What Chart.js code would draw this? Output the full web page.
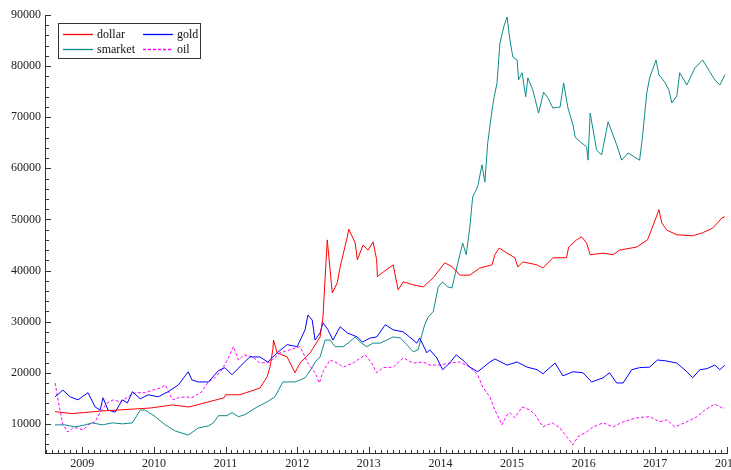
<!DOCTYPE html>
<html lang="en">
<head>
<meta charset="UTF-8">
<title>dollar, gold, smarket, oil</title>
<script src="https://cdn.jsdelivr.net/npm/chart.js"></script>
<style>
  html, body { margin: 0; padding: 0; background: #fff; overflow: hidden; }
  #wrap { width: 731px; height: 470px; }
</style>
</head>
<body>
<div id="wrap"><canvas id="grafico" width="731" height="470"></canvas></div>
<script>
  // values (decimal years, index values)
  const dollarDates = [2008.62, 2008.86, 2009.25, 2009.95, 2010.26, 2010.49, 2010.98, 2011.00, 2011.20, 2011.48,
    2011.58, 2011.62, 2011.66, 2011.67, 2011.72, 2011.86, 2011.97, 2012.04, 2012.18, 2012.32,
    2012.36, 2012.42, 2012.46, 2012.49, 2012.56, 2012.60, 2012.70, 2012.72, 2012.81, 2012.84,
    2012.92, 2012.99, 2013.06, 2013.11, 2013.12, 2013.20, 2013.34, 2013.41, 2013.48, 2013.62,
    2013.76, 2013.90, 2014.06, 2014.17, 2014.27, 2014.41, 2014.55, 2014.72, 2014.76, 2014.82,
    2014.93, 2015.04, 2015.08, 2015.15, 2015.35, 2015.43, 2015.57, 2015.76, 2015.79, 2015.90,
    2015.97, 2016.04, 2016.09, 2016.27, 2016.41, 2016.50, 2016.74, 2016.89, 2016.96, 2017.05,
    2017.09, 2017.16, 2017.30, 2017.52, 2017.66, 2017.80, 2017.93, 2017.97];
  const dollarValues = [12400, 12000, 12500, 13100, 13700, 13300, 15100, 15700, 15700, 17000,
    19200, 21100, 24500, 26400, 23900, 23100, 20000, 21900, 23900, 27000,
    30900, 46000, 40100, 35600, 37600, 40700, 46600, 48100, 45400, 42100,
    45000, 44000, 45600, 42100, 38800, 39700, 41100, 36200, 37800, 37200,
    36800, 38600, 41500, 40700, 39100, 39100, 40500, 41100, 43100, 44400,
    43400, 42500, 40700, 41700, 41100, 40500, 42500, 42500, 44600, 46000,
    46600, 45400, 43100, 43400, 43100, 44000, 44600, 46000, 48500, 51900,
    49300, 47900, 47000, 46800, 47400, 48300, 50300, 50500];

  const goldDates = [2008.62, 2008.73, 2008.83, 2008.94, 2009.08, 2009.18, 2009.25, 2009.29, 2009.36, 2009.46,
    2009.56, 2009.63, 2009.70, 2009.81, 2009.92, 2010.06, 2010.20, 2010.34, 2010.48, 2010.53,
    2010.62, 2010.76, 2010.90, 2010.99, 2011.09, 2011.25, 2011.34, 2011.48, 2011.59, 2011.72,
    2011.86, 2012.00, 2012.11, 2012.15, 2012.21, 2012.25, 2012.32, 2012.36, 2012.43, 2012.50,
    2012.60, 2012.70, 2012.84, 2012.91, 2013.02, 2013.11, 2013.23, 2013.34, 2013.48, 2013.57,
    2013.67, 2013.71, 2013.81, 2013.85, 2013.95, 2014.03, 2014.13, 2014.22, 2014.31, 2014.41,
    2014.52, 2014.69, 2014.76, 2014.93, 2015.07, 2015.21, 2015.35, 2015.43, 2015.60, 2015.71,
    2015.85, 2015.99, 2016.11, 2016.27, 2016.36, 2016.46, 2016.55, 2016.67, 2016.78, 2016.92,
    2017.03, 2017.16, 2017.30, 2017.44, 2017.52, 2017.62, 2017.72, 2017.83, 2017.90, 2017.97];
  const goldValues = [15300, 16600, 15300, 14700, 16100, 13300, 12700, 15100, 12700, 12300,
    14700, 14100, 16300, 14900, 15700, 15300, 16300, 17600, 20200, 18600,
    18200, 18200, 20400, 21000, 19600, 21900, 23100, 23100, 22100, 23900,
    25500, 25100, 28400, 31300, 30300, 26400, 27800, 29800, 28400, 26400,
    29000, 27800, 27000, 26000, 26800, 27000, 29400, 28400, 28000, 27000,
    25800, 26800, 23900, 24500, 22900, 20600, 21900, 23500, 22500, 21100,
    20200, 22100, 22700, 21500, 22100, 21100, 20600, 19800, 21900, 19400,
    20200, 20000, 18200, 19000, 20000, 18000, 18000, 20600, 21000, 21100,
    22500, 22300, 21900, 20200, 19000, 20600, 20800, 21500, 20600, 21500];

  const smarketDates = [2008.62, 2008.76, 2008.90, 2009.04, 2009.14, 2009.28, 2009.42, 2009.56, 2009.70, 2009.81,
    2009.88, 2010.02, 2010.16, 2010.30, 2010.48, 2010.62, 2010.76, 2010.83, 2010.90, 2011.02,
    2011.09, 2011.18, 2011.27, 2011.44, 2011.58, 2011.69, 2011.80, 2011.97, 2012.11, 2012.21,
    2012.25, 2012.32, 2012.39, 2012.46, 2012.53, 2012.64, 2012.71, 2012.81, 2012.88, 2012.97,
    2013.06, 2013.16, 2013.25, 2013.34, 2013.44, 2013.53, 2013.62, 2013.69, 2013.74, 2013.78,
    2013.83, 2013.90, 2013.97, 2014.03, 2014.10, 2014.16, 2014.23, 2014.31, 2014.36, 2014.41,
    2014.45, 2014.52, 2014.58, 2014.62, 2014.66, 2014.72, 2014.75, 2014.79, 2014.83, 2014.89,
    2014.93, 2014.97, 2015.01, 2015.07, 2015.09, 2015.14, 2015.19, 2015.22, 2015.29, 2015.37,
    2015.44, 2015.50, 2015.57, 2015.67, 2015.72, 2015.78, 2015.85, 2015.88, 2015.95, 2016.04,
    2016.06, 2016.09, 2016.18, 2016.25, 2016.34, 2016.46, 2016.53, 2016.62, 2016.71, 2016.78,
    2016.82, 2016.88, 2016.92, 2017.01, 2017.05, 2017.13, 2017.19, 2017.23, 2017.30, 2017.34,
    2017.44, 2017.55, 2017.66, 2017.76, 2017.83, 2017.90, 2017.97];
  const smarketValues = [9800, 9800, 9400, 9800, 10200, 9800, 10200, 10000, 10200, 12700,
    12700, 11400, 9800, 8600, 7800, 9200, 9600, 10200, 11600, 11600,
    12200, 11400, 11800, 13300, 14300, 15300, 18200, 18200, 19000, 21000,
    22100, 23100, 26400, 26400, 25100, 25100, 25800, 27000, 26000, 25100,
    25800, 25800, 26400, 27000, 26800, 25500, 24100, 24500, 27400, 29400,
    30900, 32000, 36800, 37800, 36800, 36600, 40700, 45400, 43100, 48500,
    54400, 56400, 60700, 57300, 65000, 71400, 74000, 76700, 84500, 88000,
    89600, 85100, 81800, 81200, 77300, 78700, 74000, 77700, 75300, 70800,
    74900, 73800, 71800, 72000, 76700, 71800, 68500, 66100, 65200, 64200,
    61600, 70800, 63600, 62600, 69100, 64600, 61600, 63000, 62200, 61600,
    66100, 74700, 77700, 81200, 78300, 76900, 75300, 72800, 74200, 78700,
    76300, 79600, 81200, 78900, 77300, 76300, 78300];

  const oilDates = [2008.62, 2008.67, 2008.73, 2008.80, 2008.87, 2008.94, 2009.01, 2009.08, 2009.18, 2009.25,
    2009.35, 2009.43, 2009.53, 2009.64, 2009.74, 2009.88, 2009.98, 2010.09, 2010.16, 2010.26,
    2010.34, 2010.44, 2010.53, 2010.67, 2010.76, 2010.85, 2010.95, 2011.04, 2011.11, 2011.18,
    2011.26, 2011.38, 2011.48, 2011.62, 2011.76, 2011.90, 2012.04, 2012.15, 2012.25, 2012.31,
    2012.36, 2012.46, 2012.56, 2012.64, 2012.78, 2012.95, 2013.04, 2013.11, 2013.20, 2013.34,
    2013.48, 2013.62, 2013.76, 2013.85, 2013.99, 2014.13, 2014.27, 2014.41, 2014.52, 2014.59,
    2014.69, 2014.76, 2014.86, 2014.93, 2014.97, 2015.04, 2015.14, 2015.25, 2015.32, 2015.43,
    2015.56, 2015.67, 2015.76, 2015.85, 2015.92, 2016.04, 2016.13, 2016.27, 2016.41, 2016.55,
    2016.74, 2016.92, 2017.06, 2017.16, 2017.27, 2017.44, 2017.58, 2017.69, 2017.83, 2017.93, 2017.97];
  const oilValues = [18000, 14100, 9800, 8400, 9200, 9200, 8800, 9800, 10400, 12300,
    14100, 14700, 14300, 15300, 16100, 16100, 16600, 17000, 17600, 14700,
    15100, 15300, 15100, 16300, 18200, 19000, 20600, 22900, 25100, 22500,
    23500, 23100, 21900, 22100, 23900, 24500, 25100, 21900, 20000, 18000,
    20200, 22500, 21900, 21100, 21900, 23500, 21900, 20000, 21000, 21100,
    22900, 21900, 22100, 21500, 21500, 21900, 22100, 21100, 19600, 17200,
    15300, 12700, 9800, 11800, 12200, 11200, 13300, 12700, 11800, 9400,
    10200, 9200, 7500, 5900, 7500, 8400, 9400, 10200, 9400, 10400,
    11200, 11400, 10400, 10800, 9400, 10400, 11400, 12700, 13900, 13100, 13100];

  const yTicks = [10000, 20000, 30000, 40000, 50000, 60000, 70000, 80000, 90000];
  const xTicks = [2009, 2010, 2011, 2012, 2013, 2014, 2015, 2016, 2017, 2018];

  function pontos(datas, valores) {
    return datas.map((d, i) => ({ x: d, y: valores[i] }));
  }

  // ticks menores e maiores dos eixos, desenhados para dentro
  const marcasEixo = {
    id: 'marcasEixo',
    afterDraw(chart) {
      const { ctx, chartArea: a, scales } = chart;
      const x = scales.x, y = scales.y;
      ctx.save();
      ctx.strokeStyle = '#333';
      ctx.lineWidth = 1;
      ctx.beginPath();
      for (let v = 6000; v <= 90000; v += 2000) {
        const py = Math.round(y.getPixelForValue(v)) + 0.5;
        const len = v % 10000 === 0 ? 6 : 4;
        ctx.moveTo(a.left, py);
        ctx.lineTo(a.left + len, py);
      }
      for (let m = 2008 * 12 + 6; m <= 2018 * 12; m++) {
        const t = m / 12;
        if (t < x.min || t > x.max) continue;
        const px = Math.round(x.getPixelForValue(t)) + 0.5;
        const len = m % 12 === 0 ? 6 : 3;
        ctx.moveTo(px, a.bottom);
        ctx.lineTo(px, a.bottom - len);
      }
      ctx.stroke();
      ctx.restore();
    }
  };

  // legenda em caixa, duas colunas
  const legendaCaixa = {
    id: 'legendaCaixa',
    afterDraw(chart) {
      const ctx = chart.ctx;
      ctx.save();
      ctx.fillStyle = '#fff';
      ctx.fillRect(58, 23, 142, 35);
      ctx.strokeStyle = '#333';
      ctx.lineWidth = 1;
      ctx.strokeRect(58.5, 23.5, 142, 35);
      ctx.font = '12px "Liberation Serif"';
      ctx.textBaseline = 'middle';
      chart.data.datasets.forEach((ds, i) => {
        const lx = 63 + (i % 2) * 80;
        const ly = 34.5 + Math.floor(i / 2) * 15;
        ctx.strokeStyle = ds.borderColor;
        ctx.setLineDash(ds.borderDash || []);
        ctx.lineWidth = 1.3;
        ctx.beginPath();
        ctx.moveTo(lx, ly);
        ctx.lineTo(lx + 30, ly);
        ctx.stroke();
        ctx.setLineDash([]);
        ctx.fillStyle = '#111';
        ctx.fillText(ds.label, lx + 34, ly);
      });
      ctx.restore();
    }
  };

  Chart.defaults.font.family = '"Liberation Serif", serif';
  Chart.defaults.font.size = 12;
  Chart.defaults.color = '#222';

  const dados = {
    datasets: [
      { label: 'dollar', data: pontos(dollarDates, dollarValues), borderColor: '#ff0000' },
      { label: 'gold', data: pontos(goldDates, goldValues), borderColor: '#0000ff' },
      { label: 'smarket', data: pontos(smarketDates, smarketValues), borderColor: '#108a8a' },
      { label: 'oil', data: pontos(oilDates, oilValues), borderColor: '#ff00ff', borderDash: [3, 2] }
    ]
  };
  dados.datasets.forEach(ds => {
    ds.borderWidth = 1;
    ds.pointRadius = 0;
    ds.tension = 0;
    ds.fill = false;
  });

  new Chart(document.getElementById('grafico'), {
    type: 'line',
    data: dados,
    options: {
      responsive: false,
      animation: false,
      devicePixelRatio: 1,
      layout: { padding: { top: 15, left: 0, right: 0, bottom: 0 } },
      plugins: { legend: { display: false }, tooltip: { enabled: false } },
      scales: {
        x: {
          type: 'linear',
          min: 2008.48,
          max: 2018,
          afterBuildTicks: s => { s.ticks = xTicks.map(v => ({ value: v })); },
          afterFit: s => { s.height = 17; s.paddingLeft = 0; s.paddingRight = 4; },
          ticks: { padding: 4, maxRotation: 0, autoSkip: false, callback: v => String(v) },
          grid: { display: false, drawTicks: false },
          border: { display: true, color: '#333', width: 1 }
        },
        y: {
          type: 'linear',
          min: 4300,
          max: 90000,
          afterBuildTicks: s => { s.ticks = yTicks.map(v => ({ value: v })); },
          afterFit: s => { s.width = 45; s.paddingTop = 0; s.paddingBottom = 0; },
          ticks: { padding: 4, callback: v => String(v) },
          grid: { display: false, drawTicks: false },
          border: { display: true, color: '#333', width: 1 }
        }
      }
    },
    plugins: [marcasEixo, legendaCaixa]
  });
</script>
</body>
</html>
